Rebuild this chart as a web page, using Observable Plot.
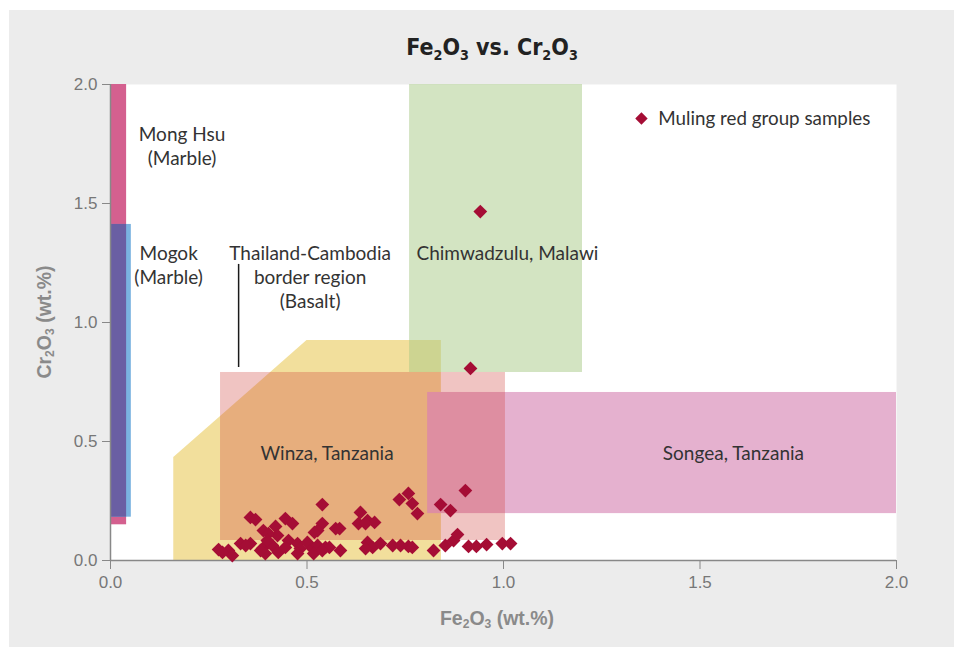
<!DOCTYPE html>
<html><head><meta charset="utf-8">
<script src="https://cdn.jsdelivr.net/npm/d3@7"></script>
<script src="https://cdn.jsdelivr.net/npm/@observablehq/plot@0.6"></script>
<style>
body{margin:0;background:#fff;}
#wrap{position:relative;width:954px;height:647px;overflow:hidden;}
#bg{position:absolute;left:9px;top:10px;right:0;bottom:0;background:#ececec;}
#chart{position:absolute;left:0;top:0;}
.title{position:absolute;left:392px;width:200px;top:34px;text-align:center;white-space:nowrap;
  font-family:"DejaVu Sans Condensed","Liberation Sans Narrow","Liberation Sans",sans-serif;font-weight:bold;font-size:23px;color:#222;}
.axl{position:absolute;white-space:nowrap;font-family:"Liberation Sans",Arial,sans-serif;font-weight:bold;font-size:19.5px;color:#8a8a8a;}
sub{font-size:0.62em;vertical-align:-0.32em;line-height:0;}
#xl{left:497px;top:618px;transform:translate(-50%,-50%);}
#yl{left:44px;top:322px;transform:translate(-50%,-50%) rotate(-90deg);}
</style></head>
<body>
<div id="wrap">
  <div id="bg"></div>
  <div id="chart"></div>
  <div class="title">Fe<sub>2</sub>O<sub>3</sub> vs. Cr<sub>2</sub>O<sub>3</sub></div>
  <div class="axl" id="xl">Fe<sub>2</sub>O<sub>3</sub> (wt.%)</div>
  <div class="axl" id="yl">Cr<sub>2</sub>O<sub>3</sub> (wt.%)</div>
</div>
<script>
// ---- data ----
const xTicks = [0, 0.5, 1.0, 1.5, 2.0];
const yTicks = [0, 0.5, 1.0, 1.5, 2.0];

// Muling red group samples: Fe2O3, Cr2O3 (wt.%)
const fe2o3 = [0.941,0.916,0.903,0.840,0.865,0.758,0.735,0.768,0.781,0.539,
  0.636,0.631,0.654,0.672,0.539,0.527,0.519,0.573,0.583,0.356,
  0.369,0.445,0.463,0.389,0.420,0.425,0.402,0.275,0.300,0.310,
  0.285,0.331,0.356,0.344,0.387,0.394,0.412,0.427,0.453,0.476,
  0.483,0.501,0.514,0.527,0.547,0.557,0.476,0.517,0.654,0.667,
  0.687,0.649,0.718,0.738,0.758,0.768,0.822,0.852,0.873,0.883,
  0.911,0.931,0.957,0.997,1.018,0.382,0.399,0.649,0.445,0.585,0.539];
const cr2o3 = [1.466,0.807,0.294,0.235,0.210,0.282,0.256,0.239,0.197,0.235,
  0.202,0.155,0.168,0.160,0.155,0.126,0.118,0.134,0.134,0.181,
  0.172,0.176,0.155,0.126,0.143,0.105,0.113,0.046,0.042,0.021,
  0.034,0.071,0.071,0.063,0.050,0.029,0.063,0.034,0.084,0.071,
  0.050,0.076,0.050,0.063,0.055,0.055,0.029,0.029,0.076,0.055,
  0.071,0.050,0.063,0.063,0.059,0.055,0.042,0.063,0.084,0.109,
  0.059,0.059,0.067,0.071,0.071,0.042,0.084,0.155,0.055,0.042,0.042];

// Reference fields (x range Fe2O3, y range Cr2O3)
const monghsu = {x1:0, x2:0.041, y1:0.150, y2:2.0};
const mogok   = {x1:0, x2:0.053, y1:0.182, y2:1.412};
const winza   = {x1:0.28, x2:1.005, y1:0.084, y2:0.79};
const chimwadzulu = {x1:0.761, x2:1.201, y1:0.79, y2:2.0};
const songea  = {x1:0.807, x2:2.0, y1:0.197, y2:0.706};
// Thailand-Cambodia basalt field outline (upper boundary; lower boundary is 0)
const basaltX = [0.161, 0.500, 0.842];
const basaltY = [0.433, 0.924, 0.924];

// Annotations
const labelText = ["Mong Hsu\n(Marble)", "Mogok\n(Marble)", "Thailand-Cambodia\nborder region\n(Basalt)",
  "Chimwadzulu, Malawi", "Winza, Tanzania", "Songea, Tanzania"];
const labelX = [0.182, 0.148, 0.508, 1.010, 0.551, 1.585];
const labelY = [1.744, 1.244, 1.193, 1.294, 0.454, 0.454];
const leader = {x:0.326, y1:0.811, y2:1.244};
const legendLabel = "Muling red group samples";
const legendPos = {x:1.351, y:1.857, tx:1.394};

// ---- build ----
const points = fe2o3.map((x,i)=>({x, y:cr2o3[i]}));
const basalt = basaltX.map((x,i)=>({x, y:basaltY[i]}));
const labels = labelText.map((t,i)=>({t, x:labelX[i], y:labelY[i]}));
const overlap = {x1:Math.max(monghsu.x1,mogok.x1), x2:Math.min(monghsu.x2,mogok.x2),
                 y1:Math.max(monghsu.y1,mogok.y1), y2:Math.min(monghsu.y2,mogok.y2)};
const R = (o, opts) => Plot.rect([o], {x1:"x1", x2:"x2", y1:"y1", y2:"y2", ...opts});
const red = "#a50d35";
const labelFont = "Lato, 'Open Sans', sans-serif";

const chart = Plot.plot({
  width: 954, height: 647,
  marginLeft: 110, marginRight: 58, marginTop: 84, marginBottom: 87,
  x: {domain: [0, 2]},
  y: {domain: [0, 2]},
  style: {background: "transparent", overflow: "visible", fontFamily: "Liberation Sans, Arial, sans-serif"},
  marks: [
    Plot.frame({fill: "white", stroke: "none"}),
    Plot.areaY(basalt, {x: "x", y: "y", fill: "#f2df9c", curve: "linear"}),
    R(songea, {fill: "#e5b1cf"}),
    R(chimwadzulu, {fill: "#a7c985", fillOpacity: 0.5}),
    R(winza, {fill: "#ce413a", fillOpacity: 0.31}),
    R(monghsu, {fill: "#d4608f"}),
    R(mogok, {fill: "#7ab3e0"}),
    R(overlap, {fill: "#6a5fa3"}),
    Plot.ruleX([leader], {x: "x", y1: "y1", y2: "y2", stroke: "#1a1a1a", strokeWidth: 1.5}),
    Plot.axisX({ticks: xTicks, tickFormat: d3.format(".1f"), tickSize: 9, tickPadding: 6,
      stroke: "#888", fill: "#777", fontSize: 17, label: null}),
    Plot.axisY({ticks: yTicks, tickFormat: d3.format(".1f"), tickSize: 8, tickPadding: 5,
      stroke: "#888", fill: "#777", fontSize: 17, label: null}),
    Plot.ruleX([0], {stroke: "#888", strokeWidth: 1.5}),
    Plot.ruleY([0], {stroke: "#888", strokeWidth: 1.5}),
    Plot.text(labels, {x: "x", y: "y", text: "t", fontSize: 19, fontFamily: labelFont,
      fill: "#333", lineHeight: 1.25}),
    Plot.dot(points, {x: "x", y: "y", symbol: "diamond2", r: 6.2, fill: red, stroke: "none"}),
    Plot.dot([legendPos], {x: "x", y: "y", symbol: "diamond2", r: 5.6, fill: red, stroke: "none"}),
    Plot.text([legendPos], {x: "tx", y: "y", text: () => legendLabel, textAnchor: "start", fontSize: 18.8,
      fontFamily: labelFont, fill: "#333"})
  ]
});
document.getElementById("chart").appendChild(chart);
</script>
</body></html>
